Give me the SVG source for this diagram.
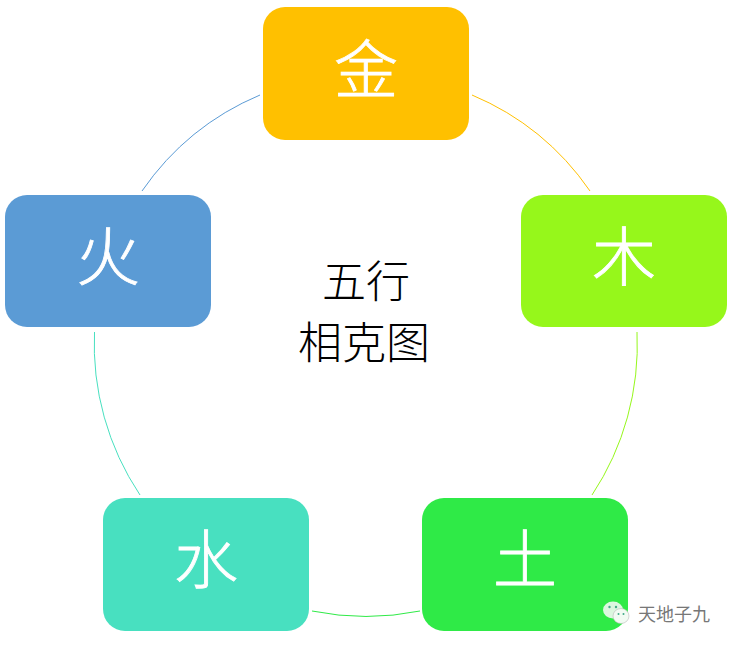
<svg xmlns="http://www.w3.org/2000/svg" width="733" height="647" viewBox="0 0 733 647">
<style>
text{font-family:"Noto Sans CJK SC","Noto Sans",sans-serif;text-anchor:middle}
.n{fill:#fff;stroke:#fff;stroke-width:.8;font-size:64px;font-weight:300}
.c{fill:#000;font-size:44px;font-weight:300}
.a{fill:none;stroke-width:1}
</style>
<rect width="733" height="647" fill="#fff"/>
<g id="connectors">
<path class="a" stroke="#FFC000" d="M472 95A271.5 271.5 0 0 1 590 191"/>
<path class="a" stroke="#96F71B" d="M637 332A271.5 271.5 0 0 1 592 495"/>
<path class="a" stroke="#2FEA47" d="M420 611A271.5 271.5 0 0 1 312 611"/>
<path class="a" stroke="#48E0C0" d="M140 495A271.5 271.5 0 0 1 94.500 332"/>
<path class="a" stroke="#5B9BD5" d="M142 191A271.5 271.5 0 0 1 260 95"/>
</g>
<g id="node-jin"><rect x="263" y="7" width="206" height="133" rx="22" fill="#FFC000"/><text class="n" x="366" y="93">金</text></g>
<g id="node-mu"><rect x="521" y="195" width="206" height="132" rx="22" fill="#96F71B"/><text class="n" x="624" y="280">木</text></g>
<g id="node-tu"><rect x="422" y="498" width="206" height="133" rx="22" fill="#2FEA47"/><text class="n" x="525" y="583">土</text></g>
<g id="node-shui"><rect x="103" y="498" width="206" height="133" rx="22" fill="#48E0C0"/><text class="n" x="206" y="583">水</text></g>
<g id="node-huo"><rect x="5" y="195" width="206" height="132" rx="22" fill="#5B9BD5"/><text class="n" x="108" y="280">火</text></g>
<g id="center"><text class="c" x="366" y="298">五行</text><text class="c" x="364" y="359">相克图</text></g>
<g id="watermark">
<ellipse cx="613" cy="610" rx="10" ry="8.500" fill="#E6F8E8" opacity=".95"/>
<ellipse cx="621" cy="616" rx="8" ry="7.500" fill="#F2FBF3" stroke="#bbb" stroke-width=".6"/>
<circle cx="609.500" cy="607" r="1.200" fill="#4a8"/><circle cx="616" cy="607" r="1.200" fill="#4a8"/>
<circle cx="618.500" cy="614" r="1" fill="#4a8"/><circle cx="623.500" cy="614" r="1" fill="#4a8"/>
<text x="674" y="621" style="font-size:18px;fill:#777">天地子九</text>
</g>
</svg>
